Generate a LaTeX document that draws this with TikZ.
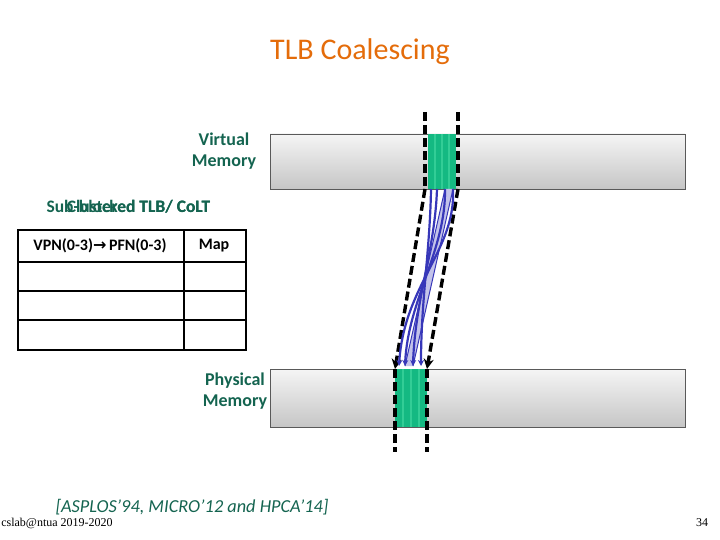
\documentclass[tikz,border=0pt]{standalone}
\usepackage{fontspec}
\setmainfont{Carlito}
\newfontfamily\footfont{Liberation Serif}
\usetikzlibrary{arrows.meta,positioning}
\definecolor{titleorange}{RGB}{228,108,10}
\definecolor{labelgreen}{RGB}{20,100,80}
\definecolor{pagegreen}{RGB}{20,185,130}
\definecolor{stripegreen}{RGB}{50,205,150}
\definecolor{mapblue}{RGB}{55,55,185}
\tikzset{
  memory bar/.style={draw=gray!70!black, line width=.6pt, top color=gray!8, bottom color=gray!45},
  page block/.style={fill=pagegreen, draw=none},
  bound line/.style={line width=3.4pt, dash pattern=on 9pt off 4pt},
  map arrow/.style={mapblue, line width=2.2pt, -{Stealth[length=6pt,width=6pt]}},
  mem label/.style={text=labelgreen, font=\fontsize{18}{21}\selectfont\bfseries, align=center},
  cell/.style={font=\fontsize{16}{18}\selectfont\bfseries},
}
\begin{document}
\begin{tikzpicture}[x=1pt,y=-1pt]
  \useasboundingbox (0,0) rectangle (720,540);
  \node[text=titleorange, font=\fontsize{30}{34}\selectfont] (title) at (360,52) {TLB Coalescing};

  % memory bars
  \node[memory bar, minimum width=415pt, minimum height=55pt, inner sep=0pt] (vmem) at (477.5,161.5) {};
  \node[memory bar, minimum width=415pt, minimum height=58pt, inner sep=0pt] (pmem) at (477.5,398) {};
  \node[mem label] (vlabel) at (224,151) {Virtual\\Memory};
  \node[mem label] (plabel) at (235,391) {Physical\\Memory};

  % pages
  \node[page block, minimum width=28pt, minimum height=55pt, inner sep=0pt] (vblk) at (442,161.5) {};
  \node[page block, minimum width=32pt, minimum height=58pt, inner sep=0pt] (pblk) at (411,398) {};
  \foreach \x in {435,442,449}
    \draw[stripegreen, line width=1.4pt] (\x,134) -- (\x,189);
  \foreach \x in {403,411,419}
    \draw[stripegreen, line width=1.4pt] (\x,369) -- (\x,427);

  % page boundaries
  \coordinate (vl) at (425,112);
  \coordinate (vr) at (458,112);
  \coordinate (vlb) at (425,189);
  \coordinate (vrb) at (458,189);
  \coordinate (pl) at (395,369);
  \coordinate (pr) at (427,369);
  \coordinate (plb) at (395,452);
  \coordinate (prb) at (427,452);
  \draw[bound line] (vl) -- (vlb);
  \draw[bound line] (vr) -- (vrb);
  \draw[bound line, -{Stealth[length=10pt,width=10pt]}] (vlb) -- (pl);
  \draw[bound line, -{Stealth[length=10pt,width=10pt]}] (vrb) -- (pr);
  \draw[bound line] (pl) -- (plb);
  \draw[bound line] (pr) -- (prb);

  % page mappings
  \coordinate (v1) at (431,189);
  \coordinate (v2) at (437,189);
  \coordinate (v3) at (445,189);
  \coordinate (v4) at (453,189);
  \coordinate (p1) at (399,366);
  \coordinate (p2) at (405,366);
  \coordinate (p3) at (413,366);
  \coordinate (p4) at (421,366);
  \fill[mapblue!30] (v3) -- (p2) -- (p3) -- (v4) -- cycle;
  \draw[mapblue, line width=1pt] (v3) -- (p2);
  \draw[mapblue, line width=1pt] (v4) -- (p3);
  \draw[map arrow] (v1) .. controls (430,250) and (421,300) .. (p4);
  \draw[map arrow] (v2) .. controls (435,250) and (415,300) .. (p3);
  \draw[map arrow] (v4) .. controls (456,250) and (404,285) .. (p1);
  \draw[map arrow] (v3) .. controls (446,250) and (408,300) .. (p2);

  % TLB table
  \node[text=labelgreen, font=\fontsize{17.5}{20}\selectfont\bfseries, anchor=west] (tlb1) at (43,207) {Sub-blocked TLB/ CoLT};
  \node[text=labelgreen, font=\fontsize{17.5}{20}\selectfont\bfseries, anchor=east] (tlb2) at (tlb1.east) {Clustered TLB/ CoLT};
  \draw[line width=2.4pt] (18,230) rectangle (246,350);
  \foreach \y in {262,291,320}
    \draw[line width=2.4pt] (18,\y) -- (246,\y);
  \draw[line width=2.4pt] (184,230) -- (184,350);
  \node[cell] (hdr1) at (100,246) {VPN(0-3){\fontspec{DejaVu Sans}\bfseries\fontsize{16}{18}\selectfont →}\,PFN(0-3)};
  \node[cell] (hdr2) at (214,246) {Map};

  % footer
  \node[text=labelgreen, font=\fontsize{18.3}{21}\selectfont\itshape] (cite) at (192,507) {[ASPLOS’94, MICRO’12 and HPCA’14]};
  \node[font=\footfont\fontsize{12}{14}\selectfont] (foot) at (57,523) {cslab@ntua 2019-2020};
  \node[font=\footfont\fontsize{12}{14}\selectfont] (page) at (702,523) {34};
\end{tikzpicture}
\end{document}
